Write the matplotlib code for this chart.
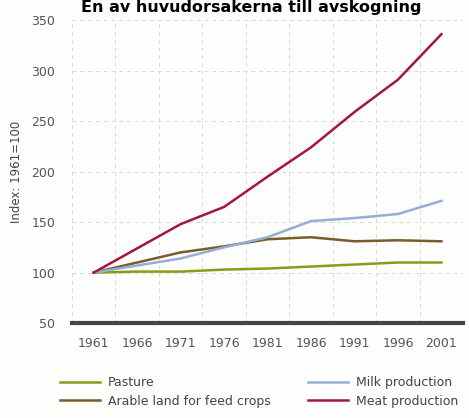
import matplotlib.pyplot as plt

plt.rcParams['font.family'] = ['DejaVu Sans Condensed', 'Liberation Sans Narrow', 'DejaVu Sans']

years = [1961, 1966, 1971, 1976, 1981, 1986, 1991, 1996, 2001]
pasture = [100, 101, 101, 103, 104, 106, 108, 110, 110]
arable = [100, 110, 120, 126, 133, 135, 131, 132, 131]
milk = [100, 107, 114, 125, 135, 151, 154, 158, 171]
meat = [100, 124, 148, 165, 195, 224, 259, 291, 336]

title = 'En av huvudorsakerna till avskogning'
ylab = 'Index: 1961=100'

fig = plt.figure(figsize=(4.69, 4.18), dpi=100)
fig.patch.set_facecolor('#fdfdfb')
ax = fig.add_axes([0.1535, 0.227, 0.834, 0.725])
ax.set_facecolor('#fdfdfb')

l1, = ax.plot(years, pasture, color='#8c9a1c', lw=1.8, label='Pasture')
l2, = ax.plot(years, arable, color='#7b5a2c', lw=1.8, label='Arable land for feed crops')
l3, = ax.plot(years, milk, color='#93afd6', lw=1.8, label='Milk production')
l4, = ax.plot(years, meat, color='#a3173f', lw=1.8, label='Meat production')

ax.set_xlim(1958.5, 2003.5)
ax.set_ylim(50, 350)
ax.set_xticks(years)
ax.set_yticks(range(50, 351, 50))
ax.set_xticks([y - 2.5 for y in years] + [2003.5], minor=True)
ax.grid(True, which='minor', axis='x', color='#d8d8d8', ls=(0, (4, 4)), lw=0.7)
ax.grid(True, which='major', axis='y', color='#d8d8d8', ls=(0, (4, 4)), lw=0.7)
ax.tick_params(which='both', length=0, colors='#555555', labelsize=9)
ax.tick_params(axis='x', pad=10)
ax.tick_params(axis='y', pad=12)
for s in ['top', 'right', 'left']:
    ax.spines[s].set_visible(False)
ax.spines['bottom'].set_color('#444444')
ax.spines['bottom'].set_linewidth(3)
ax.set_ylabel(ylab, color='#444444', fontsize=8.5, labelpad=6)

fig.text(0.535, 0.982, title, ha='center', va='center', fontsize=11.5,
         fontweight='bold')

leg1 = fig.legend(handles=[l1, l2], loc='upper left', bbox_to_anchor=(0.115, 0.115),
                  frameon=False, fontsize=9, handlelength=3.2, labelspacing=0.45,
                  labelcolor='#444444', borderpad=0, handletextpad=0.6)
fig.legend(handles=[l3, l4], loc='upper right', bbox_to_anchor=(0.99, 0.115),
           frameon=False, fontsize=9, handlelength=3.2, labelspacing=0.45,
           labelcolor='#444444', borderpad=0, handletextpad=0.6)

fig.savefig('out.png', dpi=100, facecolor=fig.get_facecolor())
